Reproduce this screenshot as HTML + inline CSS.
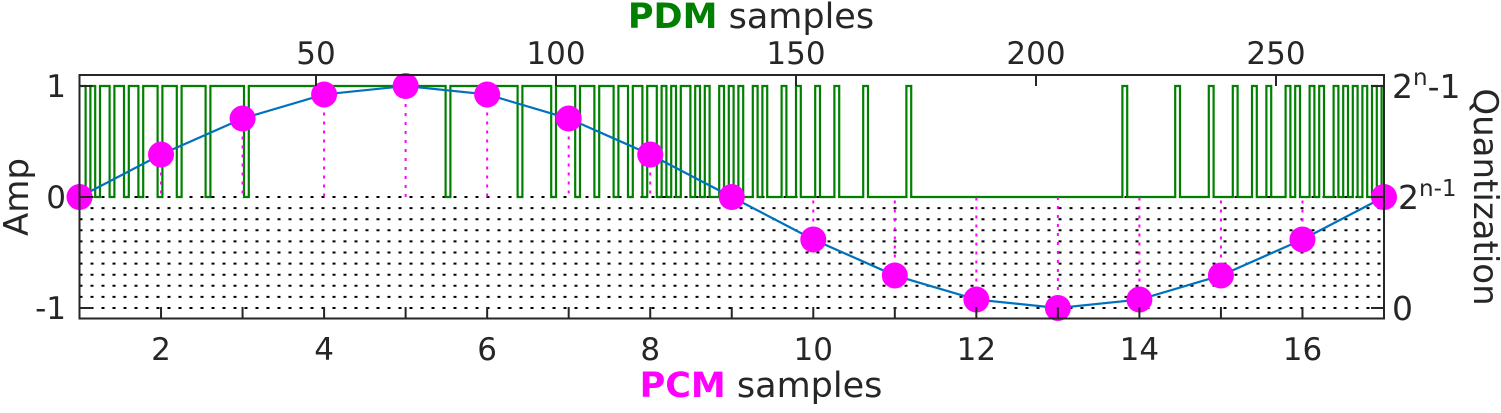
<!DOCTYPE html>
<html><head><meta charset="utf-8"><style>
html,body{margin:0;padding:0;background:#fff;}
svg{display:block;}
text{font-family:"DejaVu Sans","Liberation Sans",sans-serif;fill:#262626;}
</style></head><body>
<svg id="s" width="1501" height="413" viewBox="0 0 1501 413" xmlns="http://www.w3.org/2000/svg">
<g id="grid"></g>
<path id="pdm" fill="none" stroke="#007F00" stroke-width="2.2"/>
<g id="stems"></g>
<polyline id="sine" fill="none" stroke="#0072BD" stroke-width="2.2"/>
<g id="dots" fill="#FF00FF"></g>
<rect x="79.5" y="75" width="1304.5" height="243.5" fill="none" stroke="#262626" stroke-width="2"/>
<g id="ticks" stroke="#262626" stroke-width="2"></g>
<g id="labels" font-size="31"></g>
<text x="751" y="28" font-size="35" text-anchor="middle"><tspan font-weight="bold" style="fill:#007F00">PDM</tspan> samples</text>
<text x="761" y="397" font-size="35" text-anchor="middle"><tspan font-weight="bold" style="fill:#FF00FF">PCM</tspan> samples</text>
<text transform="translate(28,197) rotate(-90)" font-size="34" text-anchor="middle">Amp</text>
<text transform="translate(1474,197) rotate(90)" font-size="34" text-anchor="middle">Quantization</text>
<text x="1392" y="98" font-size="33">2<tspan dy="-13" font-size="23">n</tspan><tspan dy="13">-1</tspan></text>
<text x="1398" y="209" font-size="33">2<tspan dy="-13" font-size="23">n-1</tspan></text>
<text x="1392" y="320" font-size="33">0</text>
</svg>
<script>
var NS="http://www.w3.org/2000/svg";
function el(p,t,a,txt){var e=document.createElementNS(NS,t);for(var k in a)e.setAttribute(k,a[k]);if(txt!==undefined)e.textContent=txt;document.getElementById(p).appendChild(e);return e;}
var L=79.5,R=1384,Y1=86,Y0=197,Ym=308;
function bx(k){return L+(k-1)*(R-L)/16;}
function ty(v){return Y0-v*(Y0-Y1);}
for(var k=0;k<=10;k++){var y=Y0+k*11.1;el("grid","line",{x1:L,x2:R,y1:y,y2:y,stroke:"#000","stroke-width":2,"stroke-dasharray":"3 8"});}
var N=272,acc=0,d="",px=function(i){return 76+4.8*i;};
var vals=[];
for(var i=1;i<=N;i++){var s=(Math.sin(2*Math.PI*(i-1+7)/N)+1)/2;acc+=s;var b=acc>=0.5?1:0;acc-=b;vals.push(b);}
for(var i=0;i<N;i++){var x0=Math.max(px(i+1),L),x1=Math.min(px(i+2),R);var y=vals[i]?Y1:Y0;d+=(i==0?"M"+x0+" "+y:" L"+x0+" "+y)+" L"+x1+" "+y;}
document.getElementById("pdm").setAttribute("d",d);
var pts=[];
for(var k=1;k<=17;k++){var v=Math.sin(2*Math.PI*(k-1)/16);var x=bx(k),y=ty(v);pts.push(x+","+y);
el("stems","line",{x1:x,x2:x,y1:y,y2:Y0,stroke:"#FF00FF","stroke-width":2,"stroke-dasharray":"3 6"});
el("dots","circle",{cx:x,cy:y,r:13});}
document.getElementById("sine").setAttribute("points",pts.join(" "));
for(var k=1;k<=17;k++){var x=bx(k);el("ticks","line",{x1:x,x2:x,y1:318,y2:307});}
for(var k=2;k<=16;k+=2){el("labels","text",{x:bx(k),y:360,"text-anchor":"middle"},String(k));}
for(var v=50;v<=250;v+=50){var x=76+4.8*v;el("ticks","line",{x1:x,x2:x,y1:75,y2:86});el("labels","text",{x:x,y:64,"text-anchor":"middle"},String(v));}
[[1,"1"],[0,"0"],[-1,"-1"]].forEach(function(a){var y=ty(a[0]);el("ticks","line",{x1:L,x2:L+13,y1:y,y2:y});el("ticks","line",{x1:R,x2:R-13,y1:y,y2:y});el("labels","text",{x:66,y:y+11,"text-anchor":"end"},a[1]);});
</script>
</body></html>
